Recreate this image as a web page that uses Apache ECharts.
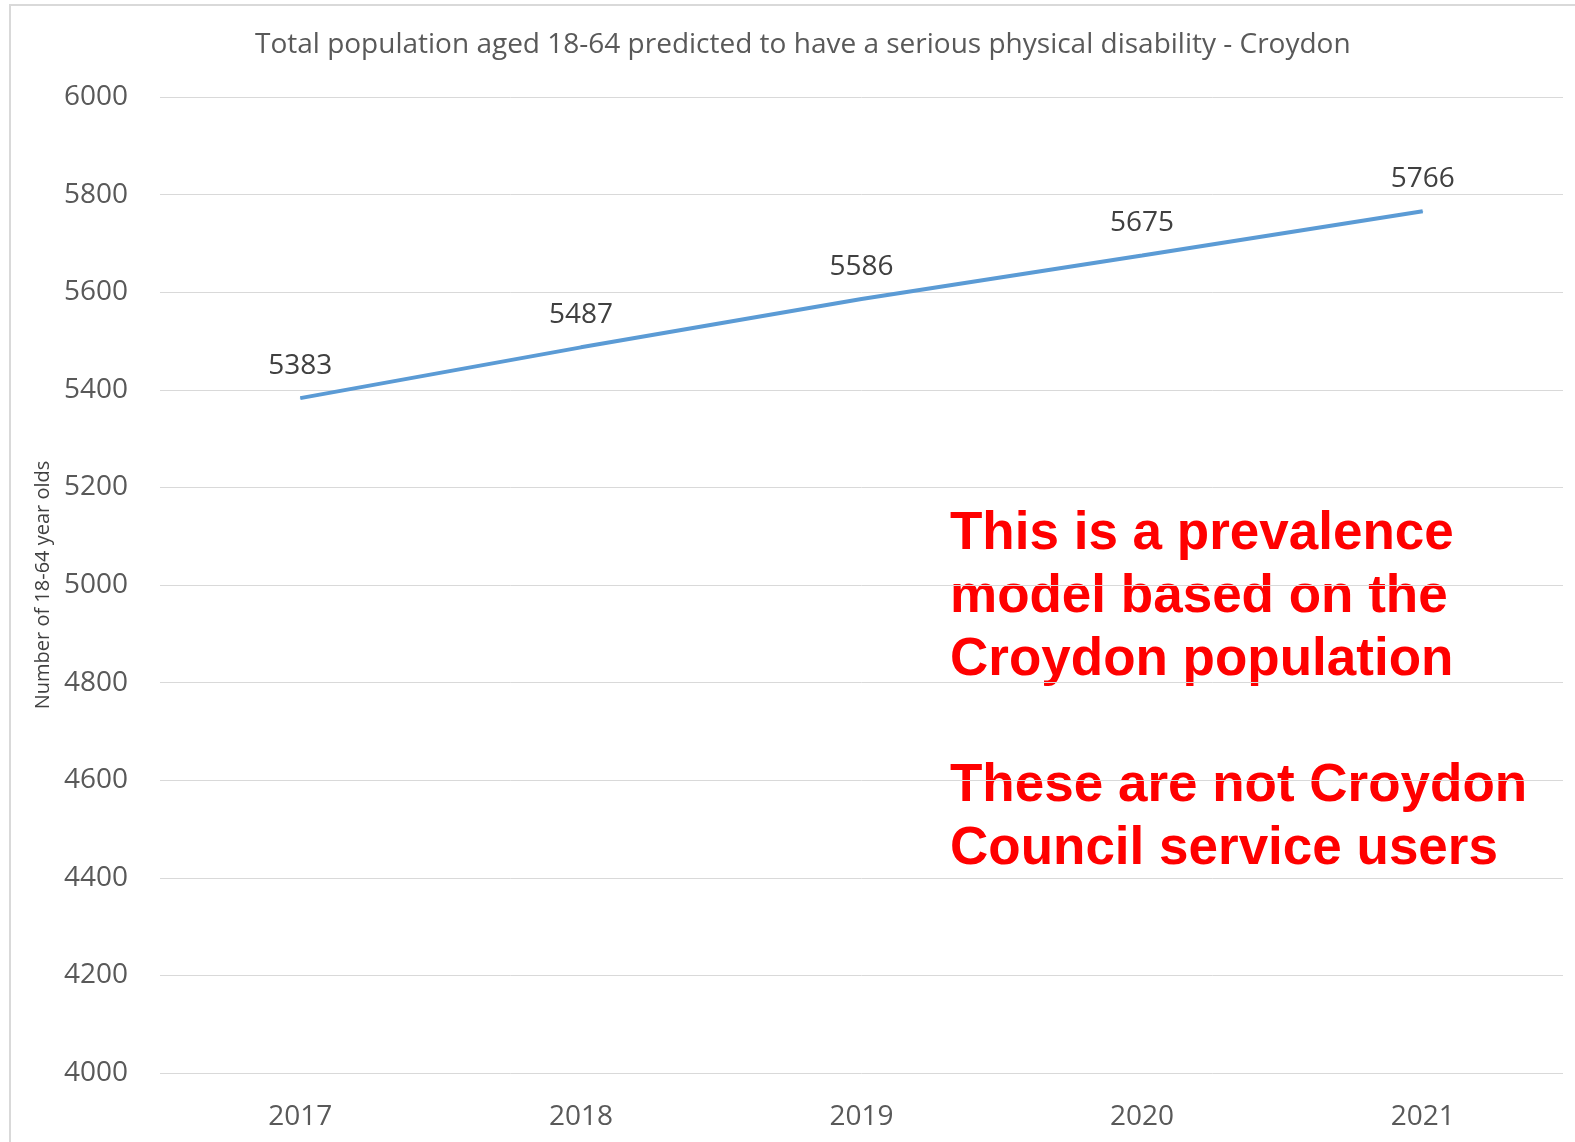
<!DOCTYPE html>
<html>
<head>
<meta charset="utf-8">
<script src="https://cdn.jsdelivr.net/npm/echarts@6/dist/echarts.min.js"></script>
<style>
html,body{margin:0;padding:0;background:#fff;}
#chart{width:1575px;height:1142px;}
</style>
</head>
<body>
<div id="chart"></div>
<script>
var titleText = 'Total population aged 18-64 predicted to have a serious physical disability - Croydon';
var yAxisName = 'Number of 18-64 year olds';
var categories = ['2017', '2018', '2019', '2020', '2021'];
var values = [5383, 5487, 5586, 5675, 5766];
var yTicks = [4000, 4200, 4400, 4600, 4800, 5000, 5200, 5400, 5600, 5800, 6000];
var noteLines = [
  'This is a prevalence',
  'model based on the',
  'Croydon population',
  '',
  'These are not Croydon',
  'Council service users'
];

var chart = echarts.init(document.getElementById('chart'));
chart.setOption({
  backgroundColor: '#ffffff',
  animation: false,
  title: {
    text: titleText,
    left: 250,
    top: 26,
    textStyle: {fontFamily: 'Open Sans', fontSize: 28, fontWeight: 'normal', color: '#595959'}
  },
  grid: {left: 160, right: 12, top: 97, bottom: 69},
  xAxis: {
    type: 'category',
    data: categories,
    boundaryGap: true,
    axisLine: {show: false},
    axisTick: {show: false},
    axisLabel: {fontFamily: 'Open Sans', fontSize: 28, color: '#595959', margin: 30}
  },
  yAxis: {
    type: 'value',
    min: yTicks[0],
    max: yTicks[yTicks.length - 1],
    interval: yTicks[1] - yTicks[0],
    name: yAxisName,
    nameLocation: 'middle',
    nameGap: 102,
    nameRotate: 90,
    nameTextStyle: {fontFamily: 'Open Sans', fontSize: 20, color: '#404040'},
    axisLine: {show: false},
    axisTick: {show: false},
    axisLabel: {
      fontFamily: 'Open Sans', fontSize: 28, color: '#595959', margin: 32,
      formatter: function (v) { return String(v); }
    },
    splitLine: {lineStyle: {color: '#d9d9d9', width: 1}}
  },
  series: [{
    type: 'line',
    data: values,
    showSymbol: true,
    symbol: 'circle',
    symbolSize: 1,
    lineStyle: {color: '#5B9BD5', width: 4},
    itemStyle: {color: '#5B9BD5'},
    label: {
      show: true,
      position: 'top',
      distance: 18,
      fontFamily: 'Open Sans',
      fontSize: 28,
      color: '#404040',
      formatter: function (p) { return String(p.value); }
    }
  }],
  graphic: [
    {
      type: 'rect',
      shape: {x: 10, y: 5, width: 1700, height: 1300},
      style: {fill: 'none', stroke: '#d9d9d9', lineWidth: 2},
      silent: true
    },
    {
      type: 'text',
      left: 950,
      top: 503,
      style: {
        text: noteLines.join('\n'),
        fontFamily: 'Liberation Sans, Arial, sans-serif',
        fontWeight: 'bold',
        fontSize: 53,
        lineHeight: 63,
        fill: '#ff0000'
      }
    }
  ]
});
</script>
</body>
</html>
